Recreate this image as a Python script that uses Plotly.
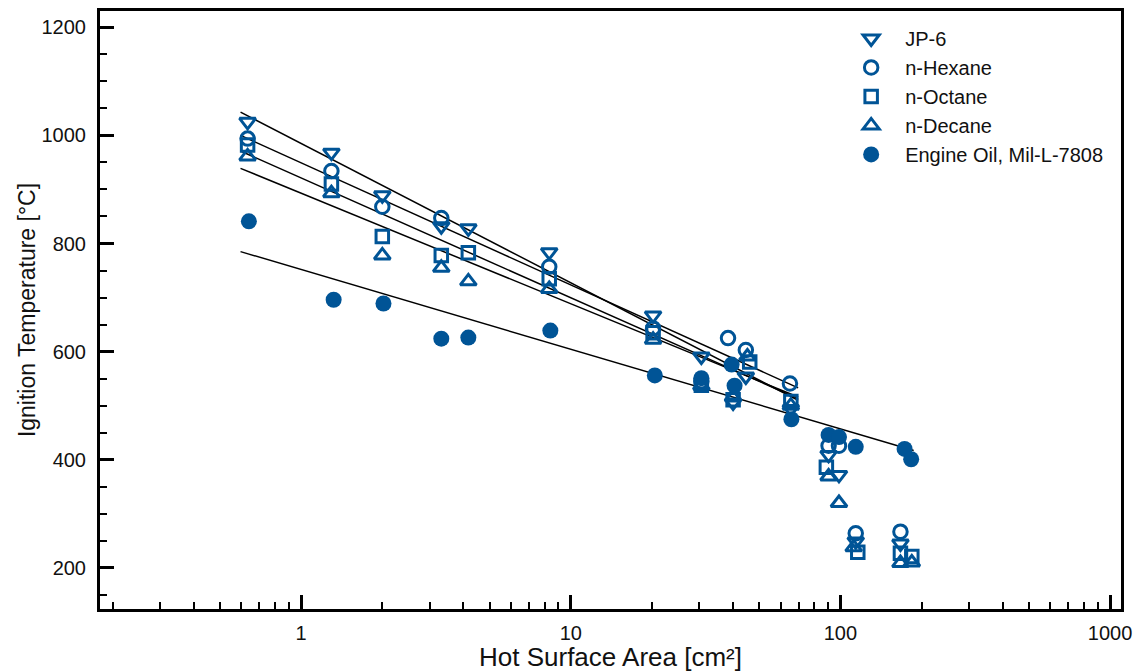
import plotly.graph_objects as go

# ---------------- data ----------------
jp6_x = [0.633, 1.295, 2.0, 3.31, 4.17, 8.32, 20.2, 30.5, 40.0, 44.6, 65.5, 90.4, 98.8, 114, 167]
jp6_y = [1025, 968, 889, 832, 828, 784, 667, 591, 506, 554, 494, 409, 372, 249, 245]

hex_x = [0.633, 1.295, 2.0, 3.31, 8.32, 20.2, 30.5, 38.3, 44.6, 65.0, 90.4, 98.8, 114, 167]
hex_y = [994, 934, 868, 847, 757, 643, 545, 625, 603, 541, 426, 426, 264, 267]

oct_x = [0.633, 1.295, 2.0, 3.31, 4.17, 8.32, 20.2, 30.5, 40.0, 46.1, 65.5, 88.7, 116, 167, 184]
oct_y = [982, 910, 813, 778, 783, 735, 635, 538, 511, 581, 508, 386, 229, 227, 221]

dec_x = [0.633, 1.295, 2.0, 3.31, 4.17, 8.32, 20.2, 30.5, 40.0, 45.2, 65.5, 90.4, 98.8, 112, 167, 184]
dec_y = [961, 893, 778, 755, 730, 716, 622, 537, 515, 591, 500, 369, 320, 238, 209, 210]

oil_x = [0.64, 1.32, 2.02, 3.31, 4.17, 8.4, 20.5, 30.5, 39.5, 40.5, 65.8, 90.4, 98.8, 114, 173, 183]
oil_y = [841, 696, 689, 624, 626, 639, 556, 551, 576, 537, 475, 446, 442, 424, 420, 401]

# fitted trend lines (end points)
fuel_fit_x = [0.596, 69.7]
jp6_fit_y = [1043, 510]
hex_fit_y = [1000, 533]
oct_fit_y = [971, 513]
dec_fit_y = [939, 516]
oil_fit_x = [0.596, 187]
oil_fit_y = [785, 417]

series_names = ["JP-6", "n-Hexane", "n-Octane", "n-Decane", "Engine Oil, Mil-L-7808"]

x_ticks = [1, 10, 100, 1000]
x_ticktext = ["1", "10", "100", "1000"]

# ---------------- styling ----------------
BLUE = "#005496"
FONT = "Liberation Sans, Arial, Helvetica, sans-serif"

fig = go.Figure()

# trend lines
for fx, fy in [(fuel_fit_x, jp6_fit_y), (fuel_fit_x, hex_fit_y), (fuel_fit_x, oct_fit_y),
               (fuel_fit_x, dec_fit_y), (oil_fit_x, oil_fit_y)]:
    fig.add_trace(go.Scatter(x=fx, y=fy, mode="lines", line=dict(color="black", width=1.5),
                             showlegend=False, hoverinfo="skip"))

marker_specs = [
    (jp6_x, jp6_y, "triangle-down-open", 14),
    (hex_x, hex_y, "circle-open", 13.5),
    (oct_x, oct_y, "square-open", 12.5),
    (dec_x, dec_y, "triangle-up-open", 14),
]
for (xs, ys, sym, sz), name in zip(marker_specs, series_names[:4]):
    fig.add_trace(go.Scatter(x=xs, y=ys, mode="markers", name=name,
                             marker=dict(symbol=sym, size=sz, color=BLUE,
                                         line=dict(color=BLUE, width=3))))

fig.add_trace(go.Scatter(x=oil_x, y=oil_y, mode="markers", name=series_names[4],
                         marker=dict(symbol="circle", size=16, color=BLUE,
                                     line=dict(width=0))))

minor_x = [m * 10 ** e for e in (-1, 0, 1, 2) for m in range(2, 10)]

fig.update_layout(
    width=1134, height=672,
    margin=dict(l=100, r=13, t=11, b=63),
    paper_bgcolor="white", plot_bgcolor="white",
    font=dict(family=FONT, size=20, color="black"),
    showlegend=True,
    legend=dict(x=0.722, y=0.9867, xanchor="left", yanchor="top",
                bgcolor="rgba(0,0,0,0)", borderwidth=0, itemwidth=58,
                font=dict(family=FONT, size=20, color="#111")),
    xaxis=dict(
        type="log", range=[-0.746, 3.0407], automargin=False,
        tickmode="array", tickvals=x_ticks, ticktext=x_ticktext,
        ticks="inside", ticklen=14, tickwidth=2.5, tickcolor="black",
        showline=True, linewidth=3, linecolor="black", mirror=True,
        showgrid=False, zeroline=False,
        minor=dict(tickmode="array", tickvals=minor_x, ticks="inside",
                   ticklen=7, tickwidth=1.5, tickcolor="black", showgrid=False),
        tickfont=dict(family=FONT, size=20, color="#111"),
        ticklabelstandoff=4,
        title=dict(text="Hot Surface Area [cm²]", font=dict(family=FONT, size=26, color="#111"),
                   standoff=9),
    ),
    yaxis=dict(
        range=[124, 1230], tickmode="linear", tick0=200, dtick=200, automargin=False,
        ticks="inside", ticklen=14, tickwidth=2.5, tickcolor="black",
        showline=True, linewidth=3, linecolor="black", mirror=True,
        showgrid=False, zeroline=False,
        minor=dict(dtick=50, ticks="inside", ticklen=7, tickwidth=1.5,
                   tickcolor="black", showgrid=False),
        tickfont=dict(family=FONT, size=20, color="#111"),
        ticklabelstandoff=7,
        title=dict(text="Ignition Temperature [°C]", font=dict(family=FONT, size=23, color="#111"),
                   standoff=0),
    ),
)

fig.write_html("out.html", config={"displayModeBar": False},
               post_script="document.body.style.margin='0';document.body.style.overflow='hidden';")
